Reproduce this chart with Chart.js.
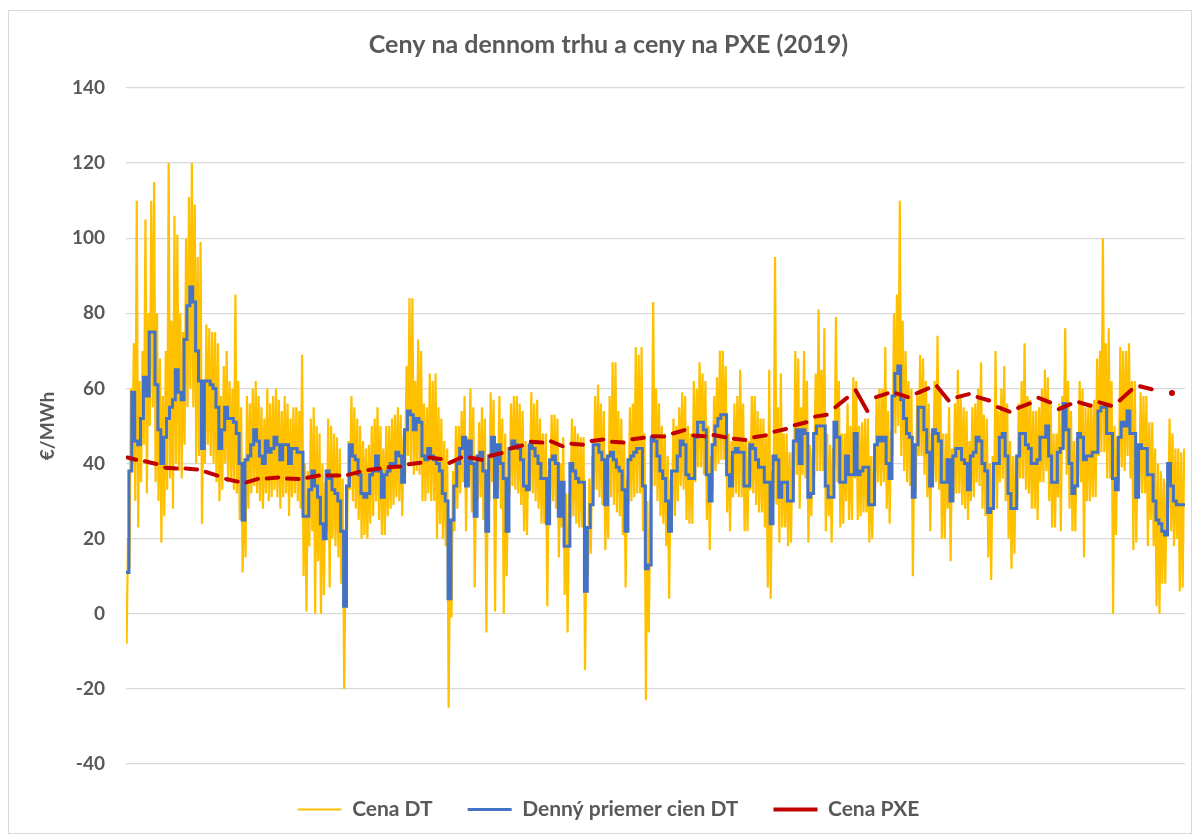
<!DOCTYPE html>
<html lang="sk">
<head>
<meta charset="utf-8">
<title>Ceny na dennom trhu a ceny na PXE (2019)</title>
<script src="https://cdn.jsdelivr.net/npm/chart.js@4.4.1/dist/chart.umd.min.js"></script>
<style>
  html, body { margin: 0; padding: 0; background: #fff; }
  #wrap { position: relative; width: 1197px; height: 837px; }
  #ramcek { position: absolute; left: 8px; top: 10px; width: 1184px; height: 824px; border: 1px solid #d9d9d9; box-sizing: border-box; pointer-events: none; }
  canvas { position: absolute; left: 0; top: 0; }
</style>
</head>
<body>
<div id="wrap">
  <canvas id="graf" width="1197" height="837"></canvas>
  <div id="ramcek"></div>
</div>
<script>
// denny priemer cien DT (EUR/MWh), den 0 = 1.1.2019
const dennyPriemer = [
  11,38,59,46,45,52,63,58,75,75, 61,49,40,47,52,55,57,65,59,57,
  73,82,87,83,70,62,44,62,62,61, 60,55,44,49,55,52,52,51,48,40,
  25,41,42,45,49,46,42,40,46,43, 44,47,45,41,45,45,40,44,44,43,
  43,26,26,33,38,34,31,24,20,38, 36,33,32,30,22,2,34,45,42,41,
  37,32,31,32,37,38,42,38,31,37, 38,40,40,43,42,35,49,54,53,49,
  52,51,42,41,44,42,41,40,38,32, 30,4,25,34,40,44,47,34,46,40,
  26,42,43,38,22,42,47,31,45,40, 36,22,44,46,45,44,41,34,33,45,
  44,42,40,36,36,24,41,42,40,26, 35,18,18,40,38,36,35,35,6,23,
  29,45,45,43,41,29,42,43,41,39, 38,33,22,41,42,43,44,44,34,12,
  13,47,46,42,38,36,30,22,38,38, 42,46,45,37,36,36,47,51,51,49,
  37,30,45,50,52,53,53,37,34,43, 44,43,43,34,34,45,44,41,39,39,
  35,35,24,42,41,31,35,35,30,30, 46,49,40,49,48,31,32,48,50,50,
  50,34,31,31,51,47,35,35,42,37, 37,48,37,38,39,39,29,29,45,47,
  46,47,40,36,58,64,66,57,52,48, 47,31,45,55,55,49,43,34,49,48,
  46,35,35,41,30,42,44,44,41,40, 33,42,43,47,46,40,38,27,28,40,
  40,47,48,42,32,28,28,42,48,48, 45,44,40,40,41,47,47,50,42,35,
  35,43,44,56,49,40,32,34,48,47, 41,42,42,43,43,54,55,55,48,48,
  36,33,47,51,50,54,48,48,31,45, 44,44,37,37,30,25,24,22,21,40,
  34,30,29,29,29
];

// hodinove ceny DT - denne minimum (noc) a maximum (vecer)
const cenaDTmin = [
  -8,12,40,30,23,35,45,32,50,55, 35,30,19,26,33,36,28,40,38,36,
  45,55,60,55,40,42,24,40,45,42, 40,35,30,33,40,35,36,33,32,25,
  11,15,28,32,34,32,30,28,32,30, 31,33,31,28,31,32,26,31,32,30,
  28,10,0.6,18,22,0,14,0,5,22, 7,20,18,15,8,-20,22,33,30,28,
  25,20,21,20,24,26,30,25,21,21, 26,28,29,31,30,26,37,42,40,37,
  38,37,30,30,32,30,30,20,24,20, 18,-25,-1,22,28,32,35,22,34,27,
  7,30,31,25,-5,30,35,0.6,33,28, 0,10,32,34,33,32,29,22,21,33,
  32,30,28,24,24,2,29,30,28,15, 23,5,-5,28,26,24,23,23,-15,10,
  16,33,33,31,29,17,20,31,29,27, 26,21,7,29,30,31,32,32,22,-23,
  -5,35,34,30,26,24,18,4,26,26, 30,34,33,25,24,24,35,39,39,37,
  25,17,33,38,40,41,41,27,22,31, 32,31,31,22,22,33,32,29,27,27,
  23,7,4,30,29,19,23,23,18,19, 33,37,28,37,36,19,26,36,38,38,
  38,22,26,19,39,35,23,24,30,25, 25,36,25,26,27,27,19,20,33,35,
  34,35,28,24,42,48,50,42,38,35, 34,10,33,42,42,37,31,22,36,35,
  33,20,20,28,14,30,32,32,29,28, 25,30,31,35,34,28,26,15,9,28,
  28,35,36,30,20,12,16,30,36,36, 33,32,28,28,25,35,35,38,30,23,
  23,31,22,44,37,28,22,22,36,35, 15,30,30,31,31,42,43,43,36,36,
  0,21,35,39,38,42,36,17,19,33, 32,32,18,25,18,2,0,8,8,28,
  22,18,20,6,7
];
const cenaDTmax = [
  20,60,72,110,62,70,105,80,110,115, 80,68,58,70,120,78,106,101,80,75,
  100,111,120,109,95,99,60,77,76,75, 75,72,58,66,70,62,60,85,62,55,
  40,58,56,60,62,58,55,52,60,56, 58,60,57,54,58,56,52,55,55,54,
  69,40,38,52,55,50,48,40,35,52, 50,48,47,44,36,18,46,58,55,52,
  50,46,44,45,50,52,55,50,44,50, 50,52,53,55,53,47,66,84,84,62,
  73,70,56,55,64,62,64,55,52,46, 44,20,38,50,50,54,58,47,60,55,
  40,51,55,52,36,59,57,45,58,52, 48,36,56,58,58,56,54,46,45,59,
  56,57,52,48,48,38,53,53,52,40, 47,32,30,52,50,48,47,47,20,36,
  42,58,61,56,54,42,58,67,67,54, 52,46,36,55,56,71,69,71,48,30,
  30,83,60,56,50,48,42,36,52,50, 55,59,58,50,48,62,60,67,64,62,
  50,42,58,63,70,70,66,48,46,56, 58,65,56,46,46,58,58,54,52,52,
  48,65,38,95,55,64,48,48,43,43, 70,68,55,70,62,45,44,64,81,65,
  76,48,45,44,79,62,48,48,56,50, 63,62,50,51,52,52,42,42,58,60,
  60,71,54,49,80,85,110,78,70,62, 60,45,58,69,68,62,56,48,62,74,
  60,48,48,55,44,56,65,58,55,54, 46,55,56,60,67,53,52,40,42,70,
  54,60,66,56,46,42,42,56,62,72, 58,57,54,54,55,60,65,63,56,48,
  48,56,58,76,62,54,46,47,62,60, 55,56,56,57,68,70,100,72,76,62,
  50,47,71,70,70,72,62,62,45,59, 58,58,51,51,44,40,38,36,35,52,
  48,44,44,43,44
];

// cena PXE po tyzdnoch: pondelok a piatok (pondelok tyzdna k = den 7k-1)
const pxePondelok = [
  41.6,40.6,38.9,38.7,37.8,35.9,35.0,36.0,36.0,36.2,36.8,37.0,38.3,39.0,39.8,41.6,40.2,41.6,
  42.0,44.0,45.8,45.9,45.3,46.0,45.8,46.5,47.3,48.0,47.5,47.6,46.6,47.0,48.5,50.2,52.5,55.0,
  59.5,57.7,58.7,58.7,60.6,57.7,57.7,55.0,54.8,57.5,54.5,56.3,56.3,56.8,60.6,null,null
];
const pxePiatok = [
  41.0,39.9,38.7,38.4,36.8,35.2,35.9,36.3,35.9,36.8,36.8,37.8,38.7,39.2,40.2,41.2,41.6,41.0,
  42.8,44.8,45.6,44.6,45.0,46.4,45.6,46.9,47.2,48.9,47.3,47.0,46.3,47.5,49.2,51.0,53.0,57.5,
  54.0,58.7,57.7,60.0,56.8,58.5,56.8,53.8,56.0,56.3,55.8,55.4,55.4,59.6,59.8,58.8,null
];

const osY = { min: -40, max: 140, krok: 20 };
const sivaText = '#595959';
Chart.defaults.font.family = "Lato, 'Open Sans', sans-serif";

const bodyDT = [];
dennyPriemer.forEach(function(v, d) {
  bodyDT.push({ x: d + 0.2, y: cenaDTmin[d] });
  bodyDT.push({ x: d + 0.7, y: cenaDTmax[d] });
});

const bodyPriemer = dennyPriemer.map(function(v, d) { return { x: d, y: v }; });
bodyPriemer.push({ x: dennyPriemer.length, y: dennyPriemer[dennyPriemer.length - 1] });

const bodyPXE = [];
pxePondelok.forEach(function(v, k) {
  const zac = Math.max(7 * k - 1, 0);
  const kon = Math.min(7 * k + 3, 364);
  bodyPXE.push({ x: zac + 0.5, y: v });
  bodyPXE.push({ x: kon + 0.5, y: pxePiatok[k] });
  bodyPXE.push({ x: kon + 1.5, y: null });
});

// samostatny bod (tyzden s jedinym obchodnym dnom) sa kresli ako bodka
function osamoteny(ctx) {
  const i = ctx.dataIndex;
  const p = bodyPXE;
  if (!p[i] || p[i].y === null) return 0;
  const pred = i > 0 ? p[i - 1].y : null;
  const po = i < p.length - 1 ? p[i + 1].y : null;
  return (pred === null && po === null) ? 1 : 0;
}

new Chart(document.getElementById('graf'), {
  type: 'line',
  data: {
    datasets: [{
      label: 'Cena DT',
      data: bodyDT,
      borderColor: '#FFC000',
      backgroundColor: '#FFC000',
      borderWidth: 2.2,
      pointRadius: 0,
      pointBorderWidth: 2,
      order: 3
    }, {
      label: 'Denný priemer cien DT',
      data: bodyPriemer,
      borderColor: '#4472C4',
      backgroundColor: '#4472C4',
      borderWidth: 3,
      stepped: 'before',
      pointRadius: 0,
      pointBorderWidth: 3,
      order: 2
    }, {
      label: 'Cena PXE',
      data: bodyPXE,
      borderColor: '#C00000',
      backgroundColor: '#C00000',
      borderWidth: 4,
      borderCapStyle: 'round',
      pointRadius: osamoteny,
      pointBorderWidth: 4,
      spanGaps: false,
      order: 1
    }]
  },
  options: {
    responsive: false,
    animation: false,
    events: [],
    layout: { padding: { left: 32, right: 12, top: 0, bottom: 7 } },
    scales: {
      x: { type: 'linear', min: 0, max: 365, display: false },
      y: {
        min: osY.min,
        max: osY.max,
        afterFit: function(axis) { axis.width = 94; },
        ticks: {
          stepSize: osY.krok,
          color: sivaText,
          padding: 21,
          font: { size: 19, weight: 'bold' }
        },
        grid: { color: '#D9D9D9', lineWidth: 1.3, drawTicks: false },
        border: { display: false },
        title: {
          display: true,
          text: '€/MWh',
          color: sivaText,
          font: { size: 19, weight: 'bold' }
        }
      }
    },
    plugins: {
      title: {
        display: true,
        text: 'Ceny na dennom trhu a ceny na PXE (2019)',
        color: sivaText,
        font: { size: 25, weight: 'bold' },
        padding: { top: 30, bottom: 28 }
      },
      legend: {
        position: 'bottom',
        labels: {
          usePointStyle: true,
          pointStyle: 'line',
          pointStyleWidth: 44,
          padding: 35,
          color: sivaText,
          font: { size: 21, weight: 'bold' },
          sort: function(a, b) { return a.datasetIndex - b.datasetIndex; }
        }
      },
      tooltip: { enabled: false }
    }
  }
});
</script>
</body>
</html>
